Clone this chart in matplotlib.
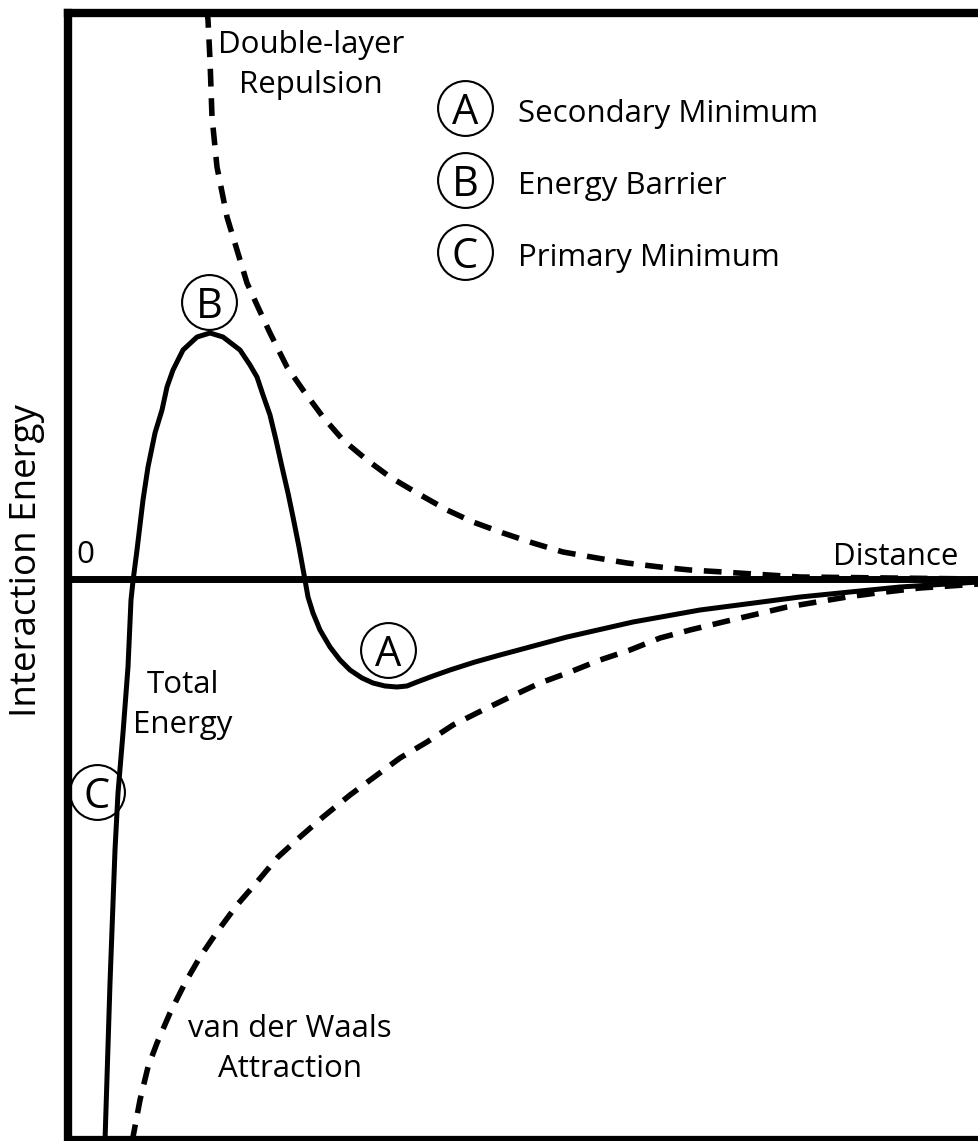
import numpy as np
import matplotlib.pyplot as plt

plt.rcParams['font.family'] = ['Open Sans', 'DejaVu Sans']

# schematic DLVO curves, arbitrary units (distance, energy)
total_x = [37, 42, 47, 50, 55, 60, 63, 65, 69, 75, 80, 87, 94, 99, 105, 115, 129, 142,
           155, 172, 182, 189, 195, 202, 208, 214, 220, 225, 231, 237, 240, 245, 252,
           262, 272, 282, 294, 305, 317, 329, 339, 349, 365, 382, 407, 432, 499, 565,
           632, 732, 832, 911]
total_y = [-562, -404, -271, -214, -154, -88, -21, -2, 29, 79, 112, 146, 169, 192, 209,
           229, 242, 246, 242, 229, 214, 202, 184, 164, 139, 112, 86, 62, 32, -1, -18,
           -34, -51, -68, -81, -91, -99, -104, -107, -108, -107, -103, -97, -91, -83,
           -76, -58, -43, -31, -18, -8, -3]

repulsion_x = [139, 140, 142, 144, 149, 159, 169, 179, 189, 202, 219, 235, 255, 275,
               299, 322, 349, 379, 405, 435, 465, 495, 529, 559, 592, 622, 655, 685,
               732, 911]
repulsion_y = [569, 559, 519, 462, 412, 362, 329, 296, 274, 246, 212, 189, 162, 139,
               119, 102, 86, 69, 57, 46, 36, 27, 21, 16, 12, 9, 7, 5, 2, 0]

vdw_x = [63, 65, 72, 80, 89, 102, 117, 132, 149, 169, 189, 210, 232, 255, 282, 309,
         332, 359, 385, 415, 442, 472, 502, 532, 562, 592, 622, 655, 685, 719, 749,
         779, 809, 852, 911]
vdw_y = [-566, -558, -521, -488, -464, -434, -404, -378, -353, -326, -303, -278, -258,
         -238, -216, -196, -179, -163, -146, -131, -118, -104, -93, -81, -71, -59, -51,
         -43, -36, -28, -23, -18, -14, -9, -5]

marks = ['A', 'B', 'C']
mark_x = [320, 141, 29]
mark_y = [-71, 277, -213]
legend_text = ['Secondary Minimum', 'Energy Barrier', 'Primary Minimum']
legend_y = [471, 399, 327]

W, H = 979, 1141
fig = plt.figure(figsize=(W / 100, H / 100), dpi=100)
ax = fig.add_axes([68 / W, 2 / H, 911 / W, 1126 / H])
ax.set_xlim(0, 911)
ax.set_ylim(-560, 566)

for s in ['left', 'top']:
    ax.spines[s].set_linewidth(6)
ax.spines['bottom'].set_linewidth(4.5)
ax.spines['right'].set_visible(False)
ax.set_xticks([])
ax.set_yticks([])

ax.axhline(0, color='black', lw=5)
ax.plot(total_x, total_y, color='black', lw=3.6, solid_joinstyle='round')
ax.plot(repulsion_x, repulsion_y, color='black', lw=4, dashes=(3.2, 2.1))
ax.plot(vdw_x, vdw_y, color='black', lw=4, dashes=(3.2, 2.1))

fs = 22.5
ax.text(17, 24, '0', fontsize=fs, ha='center', va='center')
ax.text(890, 14, 'Distance', fontsize=fs, ha='right', va='baseline')
# va='baseline' on two lines aligns the last line
ax.text(243, 486, 'Double-layer\nRepulsion', fontsize=fs, ha='center', va='baseline',
        linespacing=1.45, multialignment='center')
ax.text(115, -154, 'Total\nEnergy', fontsize=fs, ha='center', va='baseline',
        linespacing=1.45, multialignment='center')
ax.text(222, -498, 'van der Waals\nAttraction', fontsize=fs, ha='center', va='baseline',
        linespacing=1.45, multialignment='center')

# circled letters on the curve and in the key
circ_x = mark_x + [397] * 3
circ_y = mark_y + legend_y
ax.plot(circ_x, circ_y, 'o', ms=39.5, mfc='none', mec='black', mew=1.5)
for lab, x, y in zip(marks + marks, circ_x, circ_y):
    ax.text(x, y - 15.5, lab, fontsize=30, ha='center', va='baseline')
for t, y in zip(legend_text, legend_y):
    ax.text(450, y - 14, t, fontsize=fs, ha='left', va='baseline')

ax.set_ylabel('Interaction Energy', fontsize=26.5, va='center')
ax.yaxis.set_label_coords((27 - 68) / 911, (1139 - 561) / 1126)

fig.savefig('out.png', dpi=100)
